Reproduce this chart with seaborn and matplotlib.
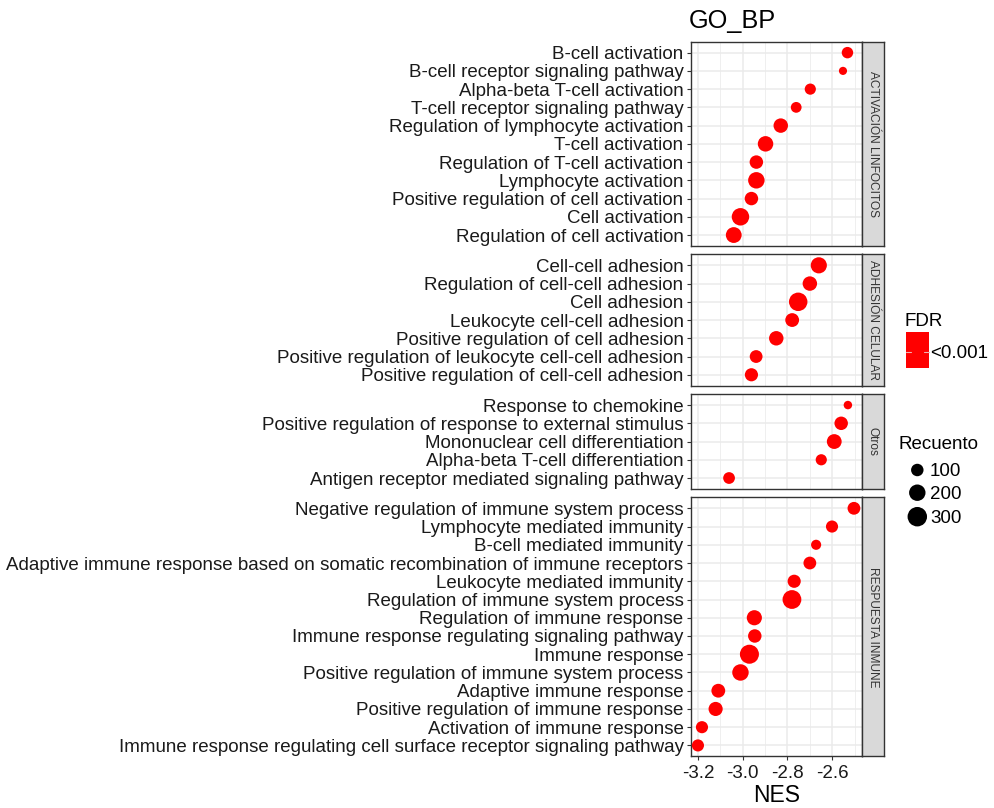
import numpy as np
import pandas as pd
import matplotlib
matplotlib.use("Agg")
import matplotlib.pyplot as plt
from matplotlib.patches import Rectangle
from matplotlib.lines import Line2D
import seaborn as sns

# ---------------- data ----------------
facets = ["ACTIVACIÓN LINFOCITOS", "ADHESIÓN CELULAR", "Otros", "RESPUESTA INMUNE"]

terms_act = ["B-cell activation", "B-cell receptor signaling pathway",
             "Alpha-beta T-cell activation", "T-cell receptor signaling pathway",
             "Regulation of lymphocyte activation", "T-cell activation",
             "Regulation of T-cell activation", "Lymphocyte activation",
             "Positive regulation of cell activation", "Cell activation",
             "Regulation of cell activation"]
nes_act = [-2.532, -2.552, -2.698, -2.761, -2.830, -2.898, -2.939, -2.939, -2.961, -3.010, -3.040]
cnt_act = [80, 30, 75, 68, 146, 173, 122, 201, 122, 232, 182]

terms_adh = ["Cell-cell adhesion", "Regulation of cell-cell adhesion", "Cell adhesion",
             "Leukocyte cell-cell adhesion", "Positive regulation of cell adhesion",
             "Positive regulation of leukocyte cell-cell adhesion",
             "Positive regulation of cell-cell adhesion"]
nes_adh = [-2.660, -2.700, -2.752, -2.779, -2.850, -2.940, -2.961]
cnt_adh = [192, 146, 265, 130, 146, 107, 115]

terms_otr = ["Response to chemokine", "Positive regulation of response to external stimulus",
             "Mononuclear cell differentiation", "Alpha-beta T-cell differentiation",
             "Antigen receptor mediated signaling pathway"]
nes_otr = [-2.530, -2.560, -2.591, -2.649, -3.061]
cnt_otr = [34, 122, 155, 75, 86]

terms_inm = ["Negative regulation of immune system process", "Lymphocyte mediated immunity",
             "B-cell mediated immunity",
             "Adaptive immune response based on somatic recombination of immune receptors",
             "Leukocyte mediated immunity", "Regulation of immune system process",
             "Regulation of immune response", "Immune response regulating signaling pathway",
             "Immune response", "Positive regulation of immune system process",
             "Adaptive immune response", "Positive regulation of immune response",
             "Activation of immune response",
             "Immune response regulating cell surface receptor signaling pathway"]
nes_inm = [-2.503, -2.601, -2.672, -2.700, -2.770, -2.780, -2.948, -2.946, -2.970, -3.010,
           -3.109, -3.121, -3.182, -3.200]
cnt_inm = [107, 93, 57, 107, 115, 276, 164, 122, 285, 201, 130, 138, 93, 93]

fdr_label = "<0.001"
size_breaks = [100, 200, 300]
x_ticks = [-3.2, -3.0, -2.8, -2.6]
x_minor = [-3.1, -2.9, -2.7, -2.5]

groups = [(terms_act, nes_act, cnt_act), (terms_adh, nes_adh, cnt_adh),
          (terms_otr, nes_otr, cnt_otr), (terms_inm, nes_inm, cnt_inm)]

# ---------------- style ----------------
sns.set_style("white")
plt.rcParams['font.family'] = ['Liberation Sans', 'DejaVu Sans']

W, H = 995, 808
DPI = 100
fig = plt.figure(figsize=(W / DPI, H / DPI), dpi=DPI)

def diam_px(c):
    return 2.9 + 0.956 * np.sqrt(c)

def area_pt2(c):
    return (diam_px(c) * 72.0 / DPI) ** 2

RED = "#FF0000"
TXT = "#1A1A1A"
LBL_FS = 13.5

left_px, right_px = 691.0, 862.0
strip_w = 22.0
top_px = 41.7
unit = 18.24
gap = 8.4
xlim = (-3.231, -2.467)

y_cur = top_px
axes = []
for gi, (terms, nes, cnt) in enumerate(groups):
    n = len(terms)
    h = (n + 0.2) * unit
    ax = fig.add_axes([left_px / W, 1 - (y_cur + h) / H, (right_px - left_px) / W, h / H])
    df = pd.DataFrame({"term": terms, "NES": nes, "Count": cnt})
    sizes = {c: area_pt2(c) for c in sorted(set(cnt))}
    sns.scatterplot(data=df, x="NES", y="term", size="Count", sizes=sizes,
                    color=RED, edgecolor="none", linewidth=0, legend=False,
                    ax=ax, zorder=3)
    ax.set_ylim(n - 1 + 0.6, -0.6)
    ax.set_xlim(*xlim)
    ax.set_xticks(x_ticks)
    ax.set_xticks(x_minor, minor=True)
    ax.grid(True, which="major", color="#EBEBEB", lw=1.1, zorder=0)
    ax.grid(True, which="minor", axis="x", color="#EBEBEB", lw=0.55, zorder=0)
    ax.set_axisbelow(True)
    for sp in ax.spines.values():
        sp.set_color("#333333")
        sp.set_linewidth(1.0)
    ax.tick_params(axis="both", which="major", length=2.75, width=0.8, color="#333333",
                   labelsize=LBL_FS, labelcolor=TXT, pad=2.6, left=True, bottom=True)
    ax.tick_params(axis="x", which="major", pad=3.6)
    ax.tick_params(axis="both", which="minor", length=0)
    ax.set_ylabel("")
    if gi < len(groups) - 1:
        ax.set_xticklabels([])
        ax.tick_params(axis="x", which="major", length=0)
        ax.set_xlabel("")
    else:
        ax.set_xticklabels([f"{t:.1f}" for t in x_ticks])
        ax.set_xlabel("NES", fontsize=16.5, color="black", labelpad=1.5)
    # strip
    sax = fig.add_axes([right_px / W, 1 - (y_cur + h) / H, strip_w / W, h / H])
    sax.set_facecolor("#D9D9D9")
    sax.set_xticks([]); sax.set_yticks([])
    for sp in sax.spines.values():
        sp.set_color("#333333")
        sp.set_linewidth(1.0)
    sax.text(0.5, 0.5, facets[gi], rotation=-90, ha="center", va="center",
             fontsize=8.6, color="#333333", transform=sax.transAxes)
    axes.append(ax)
    y_cur += h + gap

# title
fig.text(left_px / W - 0.002, 1 - 27.7 / H, "GO_BP", fontsize=18.3, ha="left", va="baseline",
         color="black")

# ---------------- legends ----------------
def fx(x):
    return x / W

def fy(y):
    return 1 - y / H

# FDR colour key
fig.text(fx(905), fy(325.5), "FDR", fontsize=LBL_FS, ha="left", va="baseline", color="black")
fig.add_artist(Rectangle((fx(906), fy(367.7)), (929.3 - 906) / W, (367.7 - 332) / H,
                         transform=fig.transFigure, facecolor=RED, edgecolor="none"))
for x0, x1 in [(906, 911), (924.3, 929.3)]:
    fig.add_artist(Line2D([fx(x0), fx(x1)], [fy(351.7), fy(351.7)], transform=fig.transFigure,
                          color="#F2B0B0", lw=0.8))
fig.text(fx(930), fy(351.7), fdr_label, fontsize=LBL_FS, ha="left", va="center_baseline",
         color="black")

# size legend
fig.text(fx(899), fy(449), "Recuento", fontsize=LBL_FS, ha="left", va="baseline", color="black")
lax = fig.add_axes([0, 0, 1, 1])
lax.set_xlim(0, W)
lax.set_ylim(H, 0)
lax.axis("off")
lax.patch.set_visible(False)
leg_y = [470, 492.7, 516.7]
lax.scatter([917.3] * len(size_breaks), leg_y, s=[area_pt2(c) for c in size_breaks],
            color="black", edgecolor="none")
for yy, c in zip(leg_y, size_breaks):
    lax.text(930, yy, str(c), fontsize=LBL_FS, ha="left", va="center_baseline", color="black")

fig.savefig("out.png", dpi=DPI)
